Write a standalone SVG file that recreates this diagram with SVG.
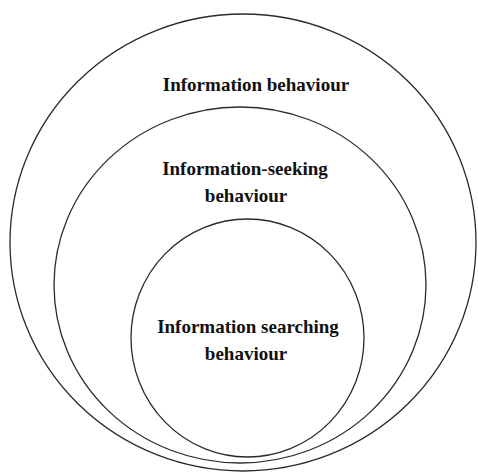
<svg xmlns="http://www.w3.org/2000/svg" width="478" height="473" viewBox="0 0 478 473">
<style>
.ring{fill:none;stroke:#2a2a2a;stroke-width:1.3}
.lbl{font-family:"Liberation Serif","Times New Roman",serif;font-weight:bold;font-size:19px;fill:#111;text-anchor:middle}
</style>
<rect width="478" height="473" fill="#fff"/>
<g id="outer">
<ellipse class="ring" cx="243" cy="242.5" rx="233" ry="228.5"/>
<text class="lbl" x="256" y="91">Information behaviour</text>
</g>
<g id="middle">
<ellipse class="ring" cx="240" cy="285" rx="186" ry="178"/>
<text class="lbl" x="245" y="175">Information-seeking</text>
<text class="lbl" x="246" y="202">behaviour</text>
</g>
<g id="inner">
<ellipse class="ring" cx="247.5" cy="338" rx="116.5" ry="119"/>
<text class="lbl" x="248" y="333">Information searching</text>
<text class="lbl" x="246" y="360">behaviour</text>
</g>
<g id="connectors"></g>
</svg>
